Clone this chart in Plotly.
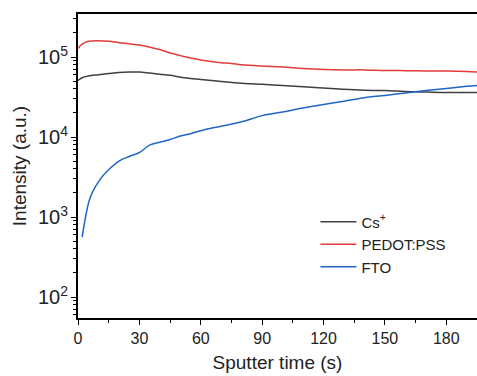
import plotly.graph_objects as go

# Cs+ (black)
t_cs = [0, 2, 5, 10, 15, 20, 25, 30, 35, 40, 45, 50, 55, 60, 70, 80, 90, 100, 110, 120, 130, 140, 150, 160, 170, 180, 190, 195]
y_cs = [5.1e4, 5.5e4, 5.8e4, 6.0e4, 6.2e4, 6.4e4, 6.5e4, 6.5e4, 6.3e4, 6.1e4, 5.9e4, 5.6e4, 5.4e4, 5.25e4,
        4.95e4, 4.7e4, 4.55e4, 4.4e4, 4.25e4, 4.1e4, 3.95e4, 3.85e4, 3.8e4, 3.7e4, 3.65e4, 3.6e4, 3.6e4, 3.6e4]

# PEDOT:PSS (red)
t_pe = [0, 2, 5, 10, 15, 20, 25, 30, 35, 40, 45, 50, 55, 60, 65, 70, 75, 80, 90, 100, 110, 120, 130, 140, 150, 160, 170, 180, 190, 195]
y_pe = [1.28e5, 1.45e5, 1.57e5, 1.6e5, 1.57e5, 1.51e5, 1.46e5, 1.41e5, 1.33e5, 1.24e5, 1.12e5, 1.04e5, 9.7e4, 9.2e4,
        8.8e4, 8.5e4, 8.3e4, 8.0e4, 7.7e4, 7.5e4, 7.2e4, 7.0e4, 6.9e4, 6.9e4, 6.8e4, 6.75e4, 6.7e4, 6.7e4, 6.6e4, 6.5e4]

# FTO (blue)
t_fto = [2, 3, 4, 5, 6, 7.5, 10, 12.5, 15, 20, 25, 30, 35, 40, 45, 50, 55, 60, 65, 70, 80, 90, 100, 110, 120, 130, 140, 150, 160, 170, 180, 190, 195]
y_fto = [560, 800, 1100, 1450, 1750, 2150, 2750, 3350, 3900, 5000, 5700, 6400, 7900, 8600, 9300, 1.03e4, 1.1e4, 1.2e4,
         1.29e4, 1.36e4, 1.55e4, 1.85e4, 2.05e4, 2.3e4, 2.55e4, 2.8e4, 3.1e4, 3.3e4, 3.55e4, 3.8e4, 4.05e4, 4.3e4, 4.4e4]

FONT = "Liberation Sans, Arial, sans-serif"

fig = go.Figure()
fig.add_trace(go.Scatter(x=t_cs, y=y_cs, mode="lines", name="Cs<sup>+</sup>",
                         line=dict(color="#404040", width=1.5, shape="spline")))
fig.add_trace(go.Scatter(x=t_pe, y=y_pe, mode="lines", name="PEDOT:PSS",
                         line=dict(color="#e33b3b", width=1.5, shape="spline")))
fig.add_trace(go.Scatter(x=t_fto, y=y_fto, mode="lines", name="FTO",
                         line=dict(color="#1f66c8", width=1.5, shape="spline")))

fig.update_layout(
    width=477, height=376,
    margin=dict(l=78, r=0, t=14, b=58),
    paper_bgcolor="white", plot_bgcolor="white",
    font=dict(family=FONT, size=16, color="#222"),
    showlegend=True,
    legend=dict(x=0.595, y=0.37, xanchor="left", yanchor="top",
                bgcolor="rgba(0,0,0,0)", font=dict(size=15), tracegroupgap=0,
                itemwidth=36),
    xaxis=dict(
        range=[0, 195], tick0=0, dtick=30,
        title=dict(text="Sputter time (s)", font=dict(size=19), standoff=10),
        showline=True, linecolor="black", linewidth=1.5, mirror=True,
        ticks="outside", ticklen=5, tickcolor="black", tickwidth=1.2,
        minor=dict(ticks="outside", ticklen=3, dtick=15, tickcolor="black"),
        showgrid=False, zeroline=False, tickfont=dict(size=16),
    ),
    yaxis=dict(
        type="log", range=[1.7375, 5.5375], dtick=1, exponentformat="power",
        title=dict(text="Intensity (a.u.)", font=dict(size=19), standoff=6),
        showline=True, linecolor="black", linewidth=1.5,
        ticks="outside", ticklen=5, tickcolor="black", tickwidth=1.2,
        minor=dict(ticks="outside", ticklen=3, dtick="D1", tickcolor="black"),
        showgrid=False, zeroline=False, tickfont=dict(size=16),
    ),
)

fig.write_html("out.html")
